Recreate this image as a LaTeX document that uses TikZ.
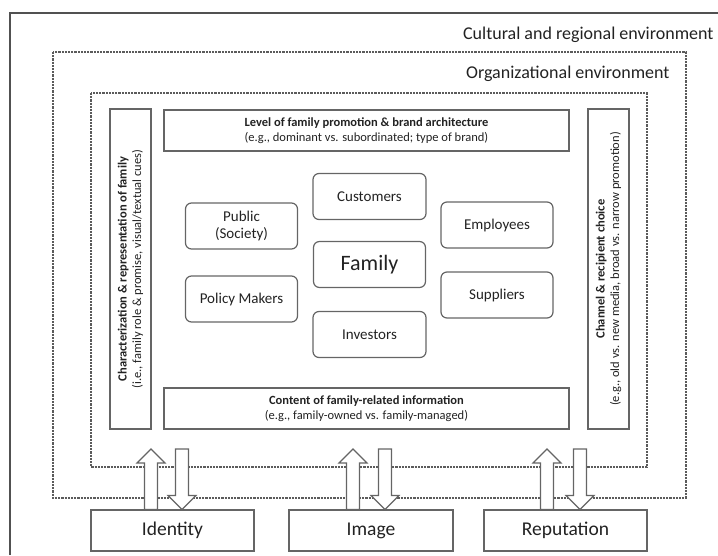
\documentclass[tikz,border=0pt]{standalone}
\usepackage{fontspec}
\setmainfont{Carlito}
\usepackage{tikz}
\usetikzlibrary{positioning,calc}
\definecolor{frame}{HTML}{656565}
\definecolor{ink}{HTML}{222222}

% block arrows, one pointing up and one pointing down
\newcommand{\blockup}[2]{%
  \draw[blockarrow] let \p1=(#1), \p2=(#2) in
    (\x2-6.5pt,\y1) -- (\x2-6.5pt,\y2-14pt) -- (\x2-14pt,\y2-14pt) -- (\x2,\y2)
    -- (\x2+14pt,\y2-14pt) -- (\x2+6.5pt,\y2-14pt) -- (\x2+6.5pt,\y1) -- cycle;}
\newcommand{\blockdown}[2]{%
  \draw[blockarrow] let \p1=(#1), \p2=(#2) in
    (\x1-6.5pt,\y1) -- (\x1-6.5pt,\y2+14pt) -- (\x1-14pt,\y2+14pt) -- (\x1,\y2)
    -- (\x1+14pt,\y2+14pt) -- (\x1+6.5pt,\y2+14pt) -- (\x1+6.5pt,\y1) -- cycle;}

\begin{document}
\begin{tikzpicture}[%
    x=1pt,y=-1pt,text=ink,
    envline/.style={draw=frame!90!black,line width=1.1pt,dash pattern=on 2.2pt off 1pt},
    envlabel/.style={anchor=east,font=\fontsize{18}{21}\selectfont},
    infobox/.style={draw=frame,line width=1.2pt,minimum width=405,minimum height=41,
      align=center,font=\fontsize{12.5}{14.5}\selectfont,inner sep=0pt},
    sidebox/.style={infobox,rotate=90,minimum width=320},
    actor/.style={draw=frame,line width=1.2pt,rounded corners=6pt,minimum width=112,
      minimum height=46,align=center,font=\fontsize{15}{17}\selectfont,inner sep=0pt},
    focal/.style={actor,font=\fontsize{22}{24}\selectfont},
    outcome/.style={draw=frame,line width=1.2pt,minimum width=163,minimum height=41,
      font=\fontsize{19.5}{22}\selectfont,inner sep=0pt},
    blockarrow/.style={draw=frame,line width=1.2pt,fill=white,line join=miter}
  ]
    \useasboundingbox (0,0) rectangle (718,555);
    % environments
    \draw[draw=frame!80!black,line width=1.3pt] (10,555) -- (10,13) -- (718,13);
    \node[envlabel] (cultlbl) at (717,35) {Cultural and regional environment};
    \draw[envline] (53,52) rectangle (686,498);
    \node[envlabel] (orglbl) at (673,74) {Organizational environment};
    \draw[envline] (91,93) rectangle (647,467);

    % communication dimensions
    \node[infobox] (level) at (366.5,130.5)
      {\textbf{Level of family promotion \& brand architecture}\\(e.g., dominant vs. subordinated; type of brand)};
    \node[infobox] (content) at (366.5,408.5)
      {\textbf{Content of family-related information}\\(e.g., family-owned vs. family-managed)};
    \node[sidebox] (charac) at (130.5,269)
      {\textbf{Characterization \& representation of family}\\(i.e., family role \& promise, visual/textual cues)};
    \node[sidebox] (channel) at (608.5,269)
      {\textbf{Channel \& recipient choice}\\(e.g., old vs. new media, broad vs. narrow promotion)};

    % stakeholders
    \node[focal] (family) at (369.5,264.5) {Family};
    \node[actor,minimum width=113] (cust) at (369.5,196.5) {Customers};
    \node[actor,minimum width=113] (inv) at (369.5,334.5) {Investors};
    \node[actor] (public) at (241.5,226) {Public\\(Society)};
    \node[actor] (policy) at (241.5,299) {Policy Makers};
    \node[actor] (empl) at (497,225) {Employees};
    \node[actor] (suppl) at (497,295) {Suppliers};

    % outcomes
    \node[outcome] (ident) at (172.5,530.5) {Identity};
    \node[outcome,minimum width=164] (img) at (371,530.5) {Image};
    \node[outcome] (repu) at (565.5,530.5) {Reputation};

    \coordinate (idup) at (151,449);
    \coordinate (iddown) at (182,449);
    \coordinate (imup) at (353,449);
    \coordinate (imdown) at (385,449);
    \coordinate (reup) at (547,449);
    \coordinate (redown) at (580,449);

    \blockup{idup |- ident.north}{idup}
    \blockdown{iddown}{iddown |- ident.north}
    \blockup{imup |- img.north}{imup}
    \blockdown{imdown}{imdown |- img.north}
    \blockup{reup |- repu.north}{reup}
    \blockdown{redown}{redown |- repu.north}
\end{tikzpicture}
\end{document}
